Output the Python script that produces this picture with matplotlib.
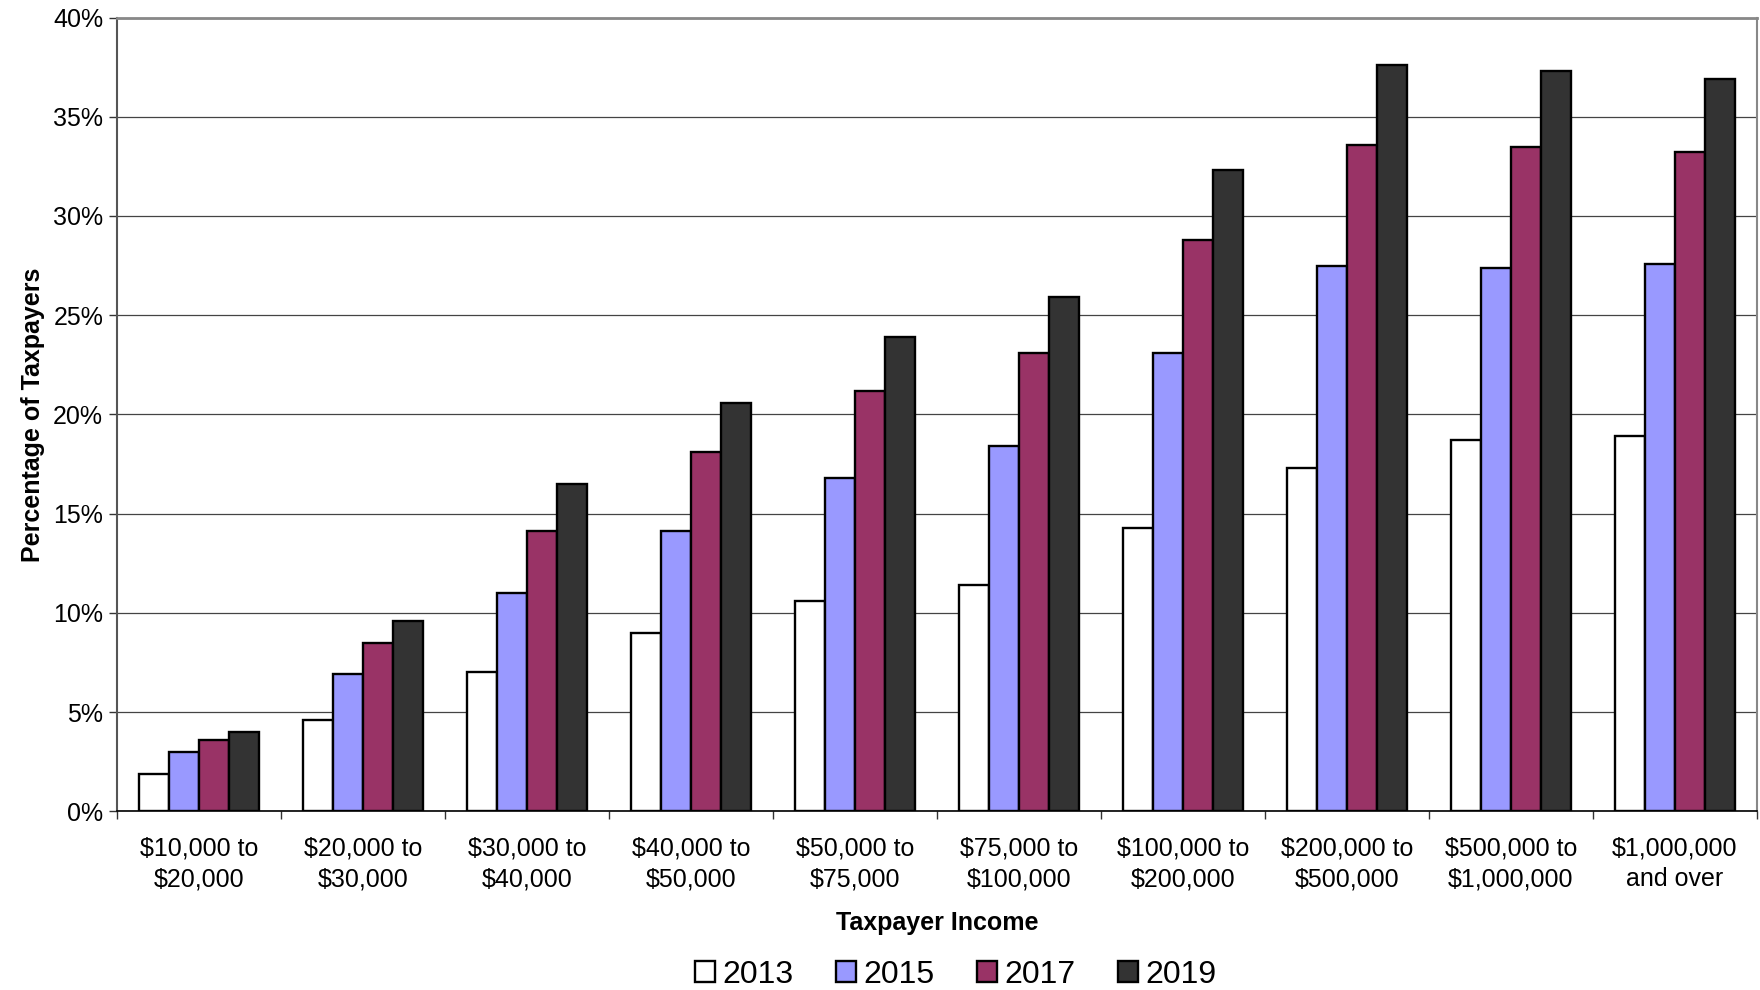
import matplotlib
matplotlib.use("Agg")
import matplotlib.pyplot as plt
import numpy as np
from matplotlib.ticker import FixedLocator, FuncFormatter

plt.rcParams['font.family'] = ['Liberation Sans', 'DejaVu Sans']

categories = ["$10,000 to\n$20,000", "$20,000 to\n$30,000", "$30,000 to\n$40,000",
              "$40,000 to\n$50,000", "$50,000 to\n$75,000", "$75,000 to\n$100,000",
              "$100,000 to\n$200,000", "$200,000 to\n$500,000", "$500,000 to\n$1,000,000",
              "$1,000,000\nand over"]
years = ["2013", "2015", "2017", "2019"]
pct_2013 = [1.9, 4.6, 7.0, 9.0, 10.6, 11.4, 14.3, 17.3, 18.7, 18.9]
pct_2015 = [3.0, 6.9, 11.0, 14.1, 16.8, 18.4, 23.1, 27.5, 27.4, 27.6]
pct_2017 = [3.6, 8.5, 14.1, 18.1, 21.2, 23.1, 28.8, 33.6, 33.5, 33.2]
pct_2019 = [4.0, 9.6, 16.5, 20.6, 23.9, 25.9, 32.3, 37.6, 37.3, 36.9]
series = [pct_2013, pct_2015, pct_2017, pct_2019]
colors = ["#FFFFFF", "#9999FF", "#993366", "#333333"]

fig = plt.figure(figsize=(17.6, 9.9), dpi=100)
ax = fig.add_axes([0.0665, 0.1805, 0.9318, 0.8018])

n = len(categories)
x = np.arange(n)
bw = 0.182
for i, (vals, col, yr) in enumerate(zip(series, colors, years)):
    ax.bar(x + (i - 1.5) * bw, vals, width=bw, color=col, edgecolor="black",
           linewidth=1.7, label=yr, zorder=3)

ax.set_xlim(-0.5, n - 0.5)
ax.set_ylim(0, 40)
ax.yaxis.set_major_locator(FixedLocator(np.arange(0, 41, 5)))
ax.yaxis.set_major_formatter(FuncFormatter(lambda v, p: f"{v:.0f}%"))
ax.grid(axis="y", color="#444444", linewidth=0.9, zorder=0)

ax.set_xticks(x)
ax.set_xticklabels(categories, fontsize=18, linespacing=1.36)
ax.set_xticks(np.arange(-0.5, n, 1.0), minor=True)
ax.tick_params(axis="x", which="major", length=0, pad=18)
ax.tick_params(axis="x", which="minor", length=6, width=1, color="#333333")
ax.tick_params(axis="y", length=6, width=1, color="#333333", labelsize=18, pad=4)

for side, col, lw in [("top", "#888888", 2.0), ("right", "#888888", 1.5),
                      ("left", "#555555", 1.5), ("bottom", "#000000", 1.2)]:
    ax.spines[side].set_color(col)
    ax.spines[side].set_linewidth(lw)

ax.set_xlabel("Taxpayer Income", fontsize=18, fontweight="bold", labelpad=14)
ax.set_ylabel("Percentage of Taxpayers", fontsize=18, fontweight="bold", labelpad=6)

fig.legend(loc="center", bbox_to_anchor=(0.543, 0.0155), ncol=4, frameon=False,
           fontsize=23, handlelength=0.62, handleheight=0.62, handletextpad=0.22,
           columnspacing=1.35)

fig.savefig("out.png", dpi=100)
